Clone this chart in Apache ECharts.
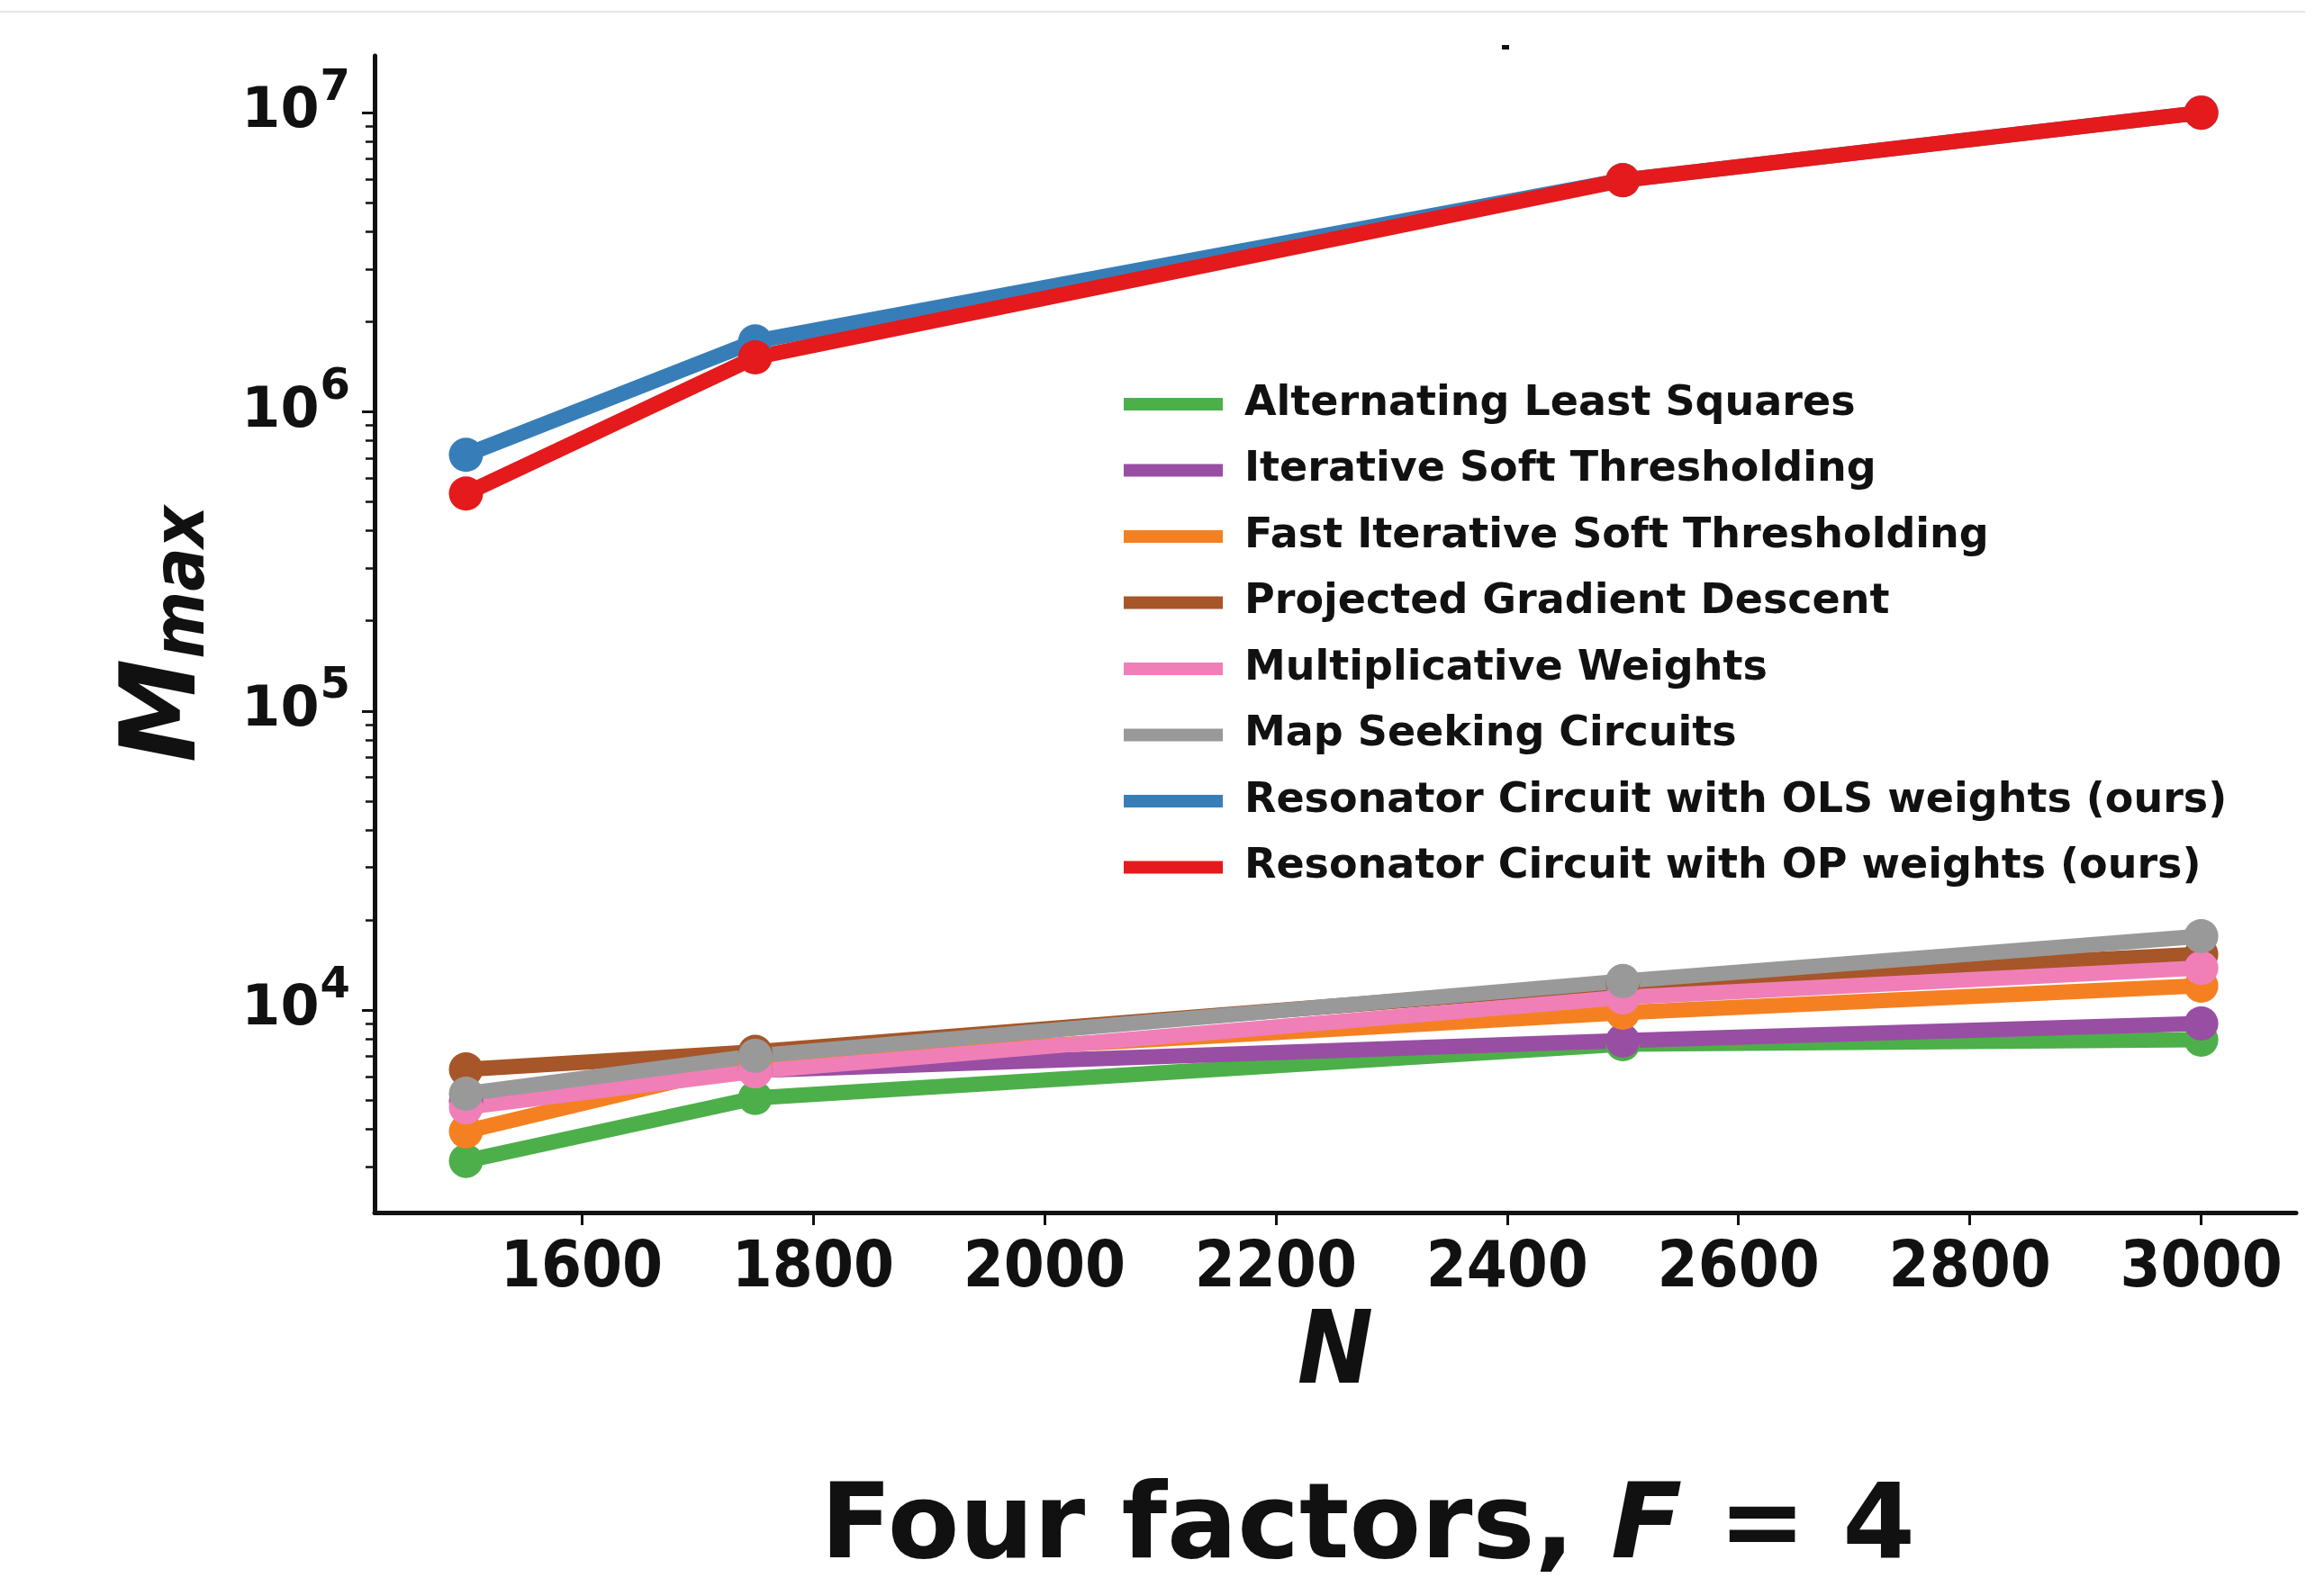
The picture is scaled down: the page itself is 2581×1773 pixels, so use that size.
<!DOCTYPE html>
<html>
<head>
<meta charset="utf-8">
<script src="https://cdn.jsdelivr.net/npm/echarts@6/dist/echarts.min.js"></script>
<style>
  html, body { margin: 0; padding: 0; background: #ffffff; }
  #chart { width: 2581px; height: 1773px; }
</style>
</head>
<body>
<div id="chart"></div>
<script>
// Problem size N on the horizontal axis
const nValues = [1500, 1750, 2500, 3000];

// Largest solvable search-space size M_max per method
const alternatingLeastSquares   = [3130, 5080, 7690, 7960];
const iterativeSoftThresholding = [4950, 6280, 7900, 9020];
const fastIterativeSoftThresh   = [3930, 6690, 9800, 12060];
const projectedGradientDescent  = [6330, 7250, 12300, 15360];
const multiplicativeWeights     = [4730, 6240, 11020, 13830];
const mapSeekingCircuits        = [5250, 7030, 12500, 17660];
const resonatorOLS              = [718000, 1720000, 5950000, 10000000];
const resonatorOP               = [533000, 1520000, 5945000, 10000000];

const seriesNames = [
  'Alternating Least Squares',
  'Iterative Soft Thresholding',
  'Fast Iterative Soft Thresholding',
  'Projected Gradient Descent',
  'Multiplicative Weights',
  'Map Seeking Circuits',
  'Resonator Circuit with OLS weights (ours)',
  'Resonator Circuit with OP weights (ours)'
];
const seriesValues = [
  alternatingLeastSquares, iterativeSoftThresholding, fastIterativeSoftThresh,
  projectedGradientDescent, multiplicativeWeights, mapSeekingCircuits,
  resonatorOLS, resonatorOP
];
const seriesColors = ['#4daf4a', '#984ea3', '#f58022', '#a65628', '#f07fb8', '#999999', '#377eb8', '#e41a1c'];

// Tick positions
const xTicks = [1600, 1800, 2000, 2200, 2400, 2600, 2800, 3000];
const yMajorTicks = [1e4, 1e5, 1e6, 1e7];
const yMinorTicks = [
  3000, 4000, 5000, 6000, 7000, 8000, 9000,
  2e4, 3e4, 4e4, 5e4, 6e4, 7e4, 8e4, 9e4,
  2e5, 3e5, 4e5, 5e5, 6e5, 7e5, 8e5, 9e5,
  2e6, 3e6, 4e6, 5e6, 6e6, 7e6, 8e6, 9e6
];

const X_MIN = 1421, X_MAX = 3082;
const Y_MIN = 2104, Y_MAX = 1.549e7;

const FONT = "'DejaVu Sans', 'Noto Sans', sans-serif";
const FONT_COND = "'DejaVu Sans Condensed', 'DejaVu Sans', sans-serif";
const INK = '#111111';

const GRID_RECT = { left: 416, right: 31, top: 62, bottom: 426, containLabel: false };

const chart = echarts.init(document.getElementById('chart'), null, { renderer: 'canvas' });

const series = seriesNames.map((name, i) => ({
  name: name,
  type: 'line',
  xAxisIndex: 0,
  yAxisIndex: 0,
  data: nValues.map((n, j) => [n, seriesValues[i][j]]),
  symbol: 'circle',
  symbolSize: 38,
  showSymbol: true,
  lineStyle: { width: 17, color: seriesColors[i], cap: 'round', join: 'round' },
  itemStyle: { color: seriesColors[i] },
  emphasis: { disabled: true },
  animation: false,
  z: 2
}));

chart.setOption({
  backgroundColor: '#ffffff',
  animation: false,
  grid: [
    Object.assign({}, GRID_RECT),
    Object.assign({}, GRID_RECT)   // carries the minor log ticks
  ],
  legend: {
    data: seriesNames,
    orient: 'vertical',
    left: 1243,
    top: 421,
    icon: 'rect',
    itemWidth: 110,
    itemHeight: 14,
    itemGap: 27.5,
    selectedMode: false,
    textStyle: {
      fontFamily: FONT,
      fontWeight: 'bold',
      fontSize: 46,
      lineHeight: 46,
      color: INK,
      padding: [0, 0, 0, 19]
    }
  },
  xAxis: [
    {
      gridIndex: 0,
      type: 'value',
      min: X_MIN,
      max: X_MAX,
      name: 'N',
      nameLocation: 'middle',
      nameGap: 86,
      nameTextStyle: {
        fontFamily: FONT_COND,
        fontStyle: 'italic',
        fontWeight: 'bold',
        fontSize: 112,
        lineHeight: 112,
        color: INK
      },
      axisLine: { show: true, lineStyle: { color: INK, width: 5 } },
      axisTick: { show: true, length: 14, lineStyle: { color: INK, width: 3 }, customValues: xTicks },
      axisLabel: {
        customValues: xTicks,
        margin: 27,
        formatter: function (v) { return String(Math.round(v)); },
        fontFamily: FONT_COND,
        fontWeight: 'bold',
        fontSize: 72,
        lineHeight: 72,
        color: INK
      },
      splitLine: { show: false }
    },
    {
      gridIndex: 1,
      type: 'value',
      min: X_MIN,
      max: X_MAX,
      show: false
    }
  ],
  yAxis: [
    {
      gridIndex: 0,
      type: 'log',
      logBase: 10,
      min: Y_MIN,
      max: Y_MAX,
      name: '{m|M}{s|max}',
      nameLocation: 'middle',
      nameGap: 171,
      nameTextStyle: {
        rich: {
          m: { fontFamily: FONT, fontStyle: 'italic', fontWeight: 'bold', fontSize: 116, lineHeight: 118, color: INK },
          s: { fontFamily: FONT_COND, fontStyle: 'italic', fontWeight: 'bold', fontSize: 80, lineHeight: 60, verticalAlign: 'bottom', color: INK }
        }
      },
      axisLine: { show: true, lineStyle: { color: INK, width: 5 } },
      axisTick: { show: true, length: 14, lineStyle: { color: INK, width: 3 }, customValues: yMajorTicks },
      axisLabel: {
        customValues: yMajorTicks,
        margin: 27,
        formatter: function (v) {
          return '{b|10}{s|' + Math.round(Math.log10(v)) + '}';
        },
        rich: {
          b: { fontFamily: FONT, fontWeight: 'bold', fontSize: 62, lineHeight: 62, color: INK },
          s: { fontFamily: FONT, fontWeight: 'bold', fontSize: 48, lineHeight: 48, verticalAlign: 'bottom', padding: [0, 0, 34, 1], color: INK }
        }
      },
      splitLine: { show: false }
    },
    {
      // minor log ticks (2..9 x 10^k)
      gridIndex: 1,
      type: 'log',
      logBase: 10,
      min: Y_MIN,
      max: Y_MAX,
      position: 'left',
      axisLine: { show: true, lineStyle: { color: 'rgba(0,0,0,0)', width: 1 } },
      axisTick: { show: true, length: 10, lineStyle: { color: INK, width: 2.5 }, customValues: yMinorTicks },
      axisLabel: { show: false },
      splitLine: { show: false }
    }
  ],
  graphic: [
    {
      type: 'text',
      x: 1519,
      y: 1700,
      style: {
        text: '{a|Four factors, }{i|F}{a| = 4}',
        align: 'center',
        verticalAlign: 'middle',
        rich: {
          a: { fontFamily: FONT, fontWeight: 'bold', fontSize: 116, lineHeight: 130, fill: INK },
          i: { fontFamily: FONT, fontStyle: 'italic', fontWeight: 'bold', fontSize: 116, lineHeight: 130, fill: INK }
        }
      },
      z: 10
    },
    {
      type: 'rect',
      shape: { x: 1668, y: 50, width: 8, height: 5 },
      style: { fill: INK },
      z: 10
    },
    {
      type: 'line',
      shape: { x1: 0, y1: 13, x2: 2560, y2: 13 },
      style: { stroke: '#e6e6e6', lineWidth: 2 },
      z: 10
    }
  ],
  series: series
});
</script>
</body>
</html>
